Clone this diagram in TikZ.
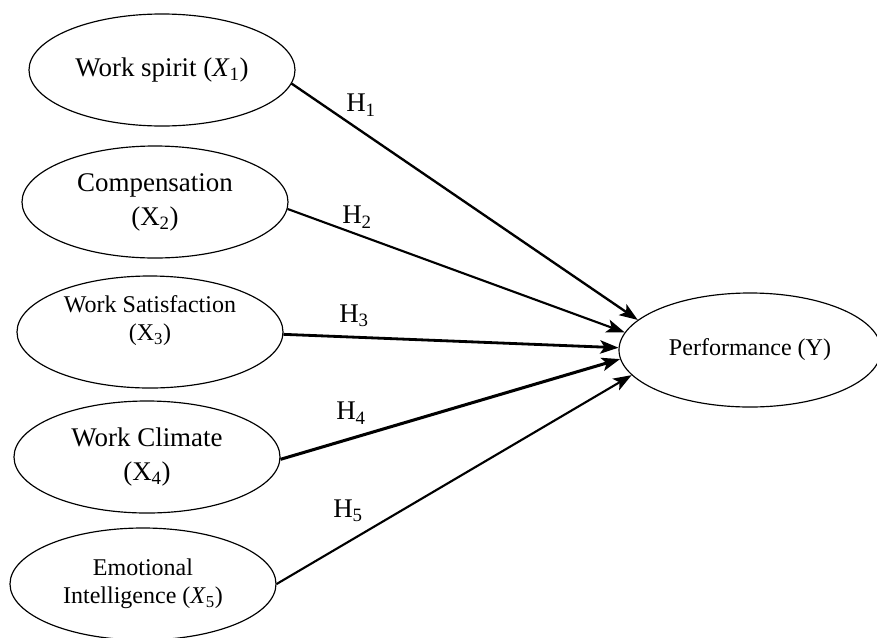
\documentclass[tikz,border=0pt]{standalone}
\usepackage{fontspec}
\setmainfont{Liberation Serif}
\usetikzlibrary{shapes.geometric,arrows.meta}
\tikzset{
  var/.style={draw, ellipse, line width=1pt, inner sep=0pt, minimum width=7.98cm, minimum height=3.36cm, align=center, font=\fontsize{20.5}{24}\selectfont},
  bigvar/.style={var, font=\fontsize{23}{29}\selectfont},
  hyp/.style={line width=2pt, -{Stealth[length=0.55cm,width=0.4cm,inset=0.13cm]}},
  hlab/.style={font=\fontsize{23}{26}\selectfont}
}
\begin{document}
\begin{tikzpicture}[x=0.03cm,y=-0.03cm]
\fill[white] (0,0) rectangle (877,637);
\useasboundingbox (0,0) rectangle (877,637);
\node[bigvar] (x1) at (162,70) {Work spirit (\textit{X}\textsubscript{1})};
\node[bigvar] (x2) at (155,202) {Compensation\\(X\textsubscript{2})};
\node[var,text depth=24pt] (x3) at (150,332) {Work Satisfaction\\(X\textsubscript{3})};
\node[bigvar] (x4) at (147,457) {Work Climate\\(X\textsubscript{4})};
\node[var] (x5) at (143,584) {Emotional\\Intelligence (\textit{X}\textsubscript{5})};
\node[var,minimum width=7.86cm,minimum height=3.42cm] (y) at (750,350) {Performance (Y)};
\draw[hyp] (x1.-6) -- (y.165);
\draw[hyp,line width=1.8pt] (x2.-3) -- (y.172);
\draw[hyp,line width=2.4pt] (x3.-1) -- (y.179);
\draw[hyp,line width=2.6pt] (x4.-1) -- (y.-176);
\draw[hyp,line width=1.8pt] (x5.0) -- (y.-168);
\node[hlab] (h1) at (361,105) {H\textsubscript{1}};
\node[hlab] (h2) at (357,217) {H\textsubscript{2}};
\node[hlab] (h3) at (354,316) {H\textsubscript{3}};
\node[hlab] (h4) at (351,413) {H\textsubscript{4}};
\node[hlab] (h5) at (348,511) {H\textsubscript{5}};
\end{tikzpicture}
\end{document}
